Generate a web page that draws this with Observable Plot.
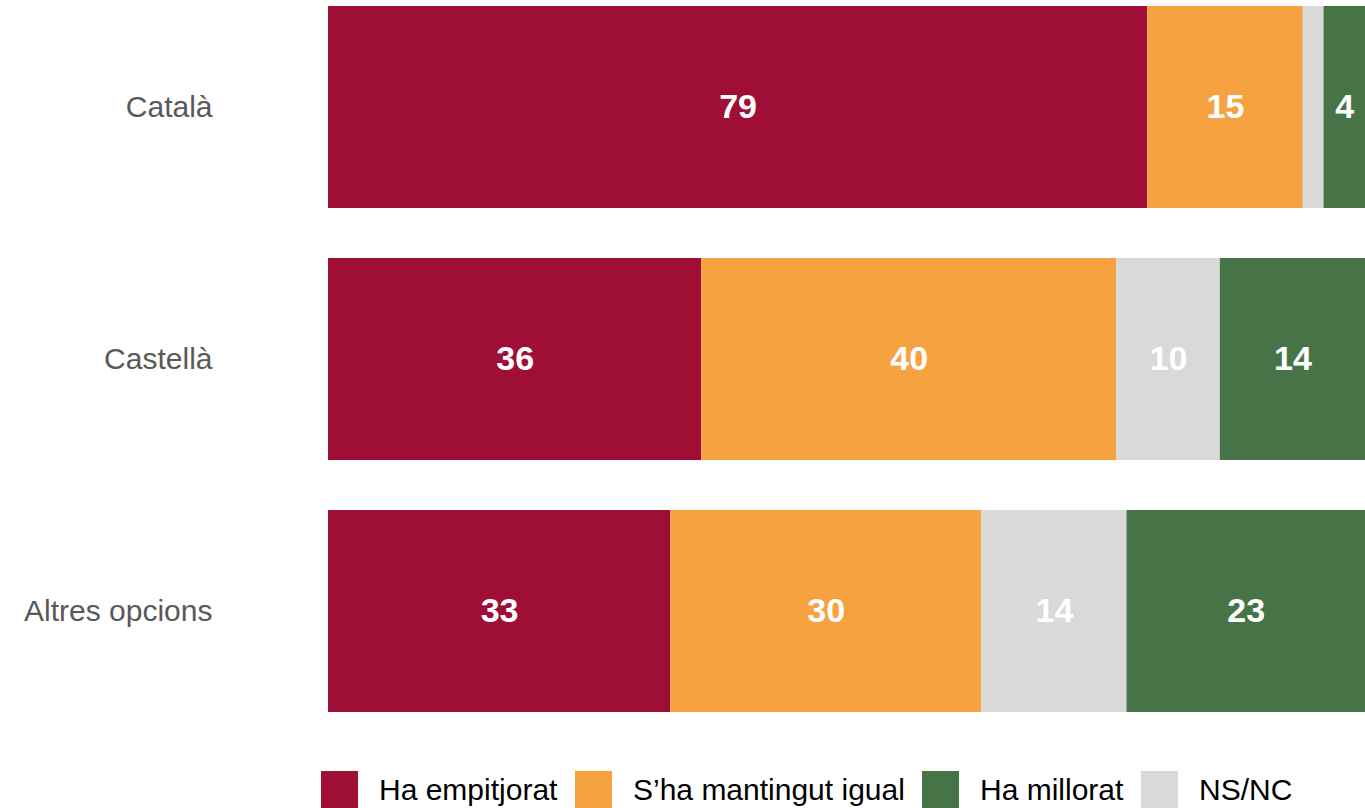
<!DOCTYPE html>
<html>
<head>
<meta charset="utf-8">
<script src="https://cdn.jsdelivr.net/npm/d3@7"></script>
<script src="https://cdn.jsdelivr.net/npm/@observablehq/plot@0.6"></script>
<style>
  html, body { margin: 0; padding: 0; background: #fff; }
  body { width: 1365px; height: 808px; overflow: hidden; font-family: "Liberation Sans", Arial, sans-serif; }
  #legend { position: relative; height: 91px; width: 1365px; }
  .item { position: absolute; top: 54px; display: flex; align-items: center; height: 37px; }
  .sw { width: 37px; height: 37px; }
  .lab { margin-left: 21px; font-size: 30px; color: #000; white-space: nowrap; }
</style>
</head>
<body>
<div id="chart"></div>
<div id="legend"></div>
<script>
const categories = ["Català", "Castellà", "Altres opcions"];
const stackOrder = ["Ha empitjorat", "S’ha mantingut igual", "NS/NC", "Ha millorat"];
const legendOrder = ["Ha empitjorat", "S’ha mantingut igual", "Ha millorat", "NS/NC"];
const colors = ["#9E0E35", "#F7A241", "#467446", "#D9D9D9"]; // in legendOrder
const valuesCatala = [79, 15, 2, 4];          // in stackOrder
const valuesCastella = [36, 40, 10, 14];
const valuesAltres = [33, 30, 14, 23];

const seriesByCat = [valuesCatala, valuesCastella, valuesAltres];
const data = [];
categories.forEach((c, i) => {
  stackOrder.forEach((r, j) => {
    data.push({cat: c, resp: r, value: seriesByCat[i][j]});
  });
});

const chart = Plot.plot({
  width: 1365,
  height: 717,
  marginLeft: 328,
  marginRight: 0,
  marginTop: 0,
  marginBottom: 0,
  style: {fontFamily: "'Liberation Sans', Arial, sans-serif", background: "#fff"},
  x: {domain: [0, 100], axis: null},
  y: {domain: categories, paddingInner: 0.2, paddingOuter: 0.02, label: null},
  color: {domain: legendOrder, range: colors},
  marks: [
    Plot.barX(data, Plot.stackX({x: "value", y: "cat", z: "resp", fill: "resp", order: stackOrder})),
    Plot.text(data, Plot.stackX({
      x: "value", y: "cat", z: "resp", order: stackOrder,
      text: d => d.value >= 3 ? String(d.value) : "",
      fill: "white", fontSize: 34, fontWeight: "bold"
    })),
    Plot.axisY({tickSize: 0, tickPadding: 116, fontSize: 30, color: "#595959", label: null})
  ]
});
document.getElementById("chart").appendChild(chart);

const lefts = [321, 575, 922, 1141];
const legend = document.getElementById("legend");
legendOrder.forEach((r, i) => {
  const it = document.createElement("div");
  it.className = "item";
  it.style.left = lefts[i] + "px";
  const sw = document.createElement("div");
  sw.className = "sw";
  sw.style.background = colors[i];
  const lab = document.createElement("span");
  lab.className = "lab";
  lab.textContent = r;
  it.appendChild(sw); it.appendChild(lab);
  legend.appendChild(it);
});
</script>
</body>
</html>
